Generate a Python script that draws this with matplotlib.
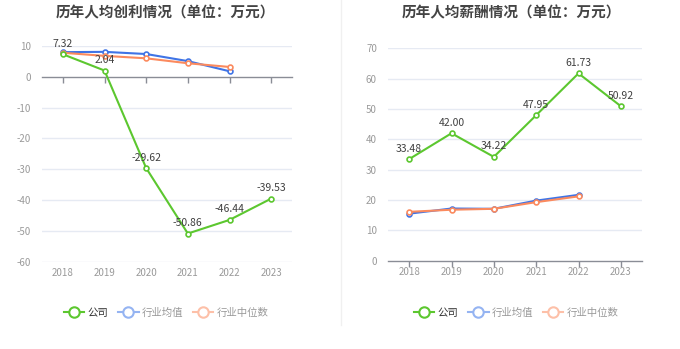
import matplotlib
matplotlib.use('Agg')
from matplotlib import pyplot as plt
from matplotlib.lines import Line2D

plt.rcParams['font.family'] = ['Noto Sans CJK SC', 'DejaVu Sans']

years = ['2018', '2019', '2020', '2021', '2022', '2023']

# 人均创利
profit_company = [7.32, 2.04, -29.62, -50.86, -46.44, -39.53]
profit_avg = [8.0, 8.1, 7.4, 5.1, 1.8]
profit_median = [7.8, 6.8, 6.0, 4.4, 3.2]

# 人均薪酬
salary_company = [33.48, 42.00, 34.22, 47.95, 61.73, 50.92]
salary_avg = [15.5, 17.2, 17.1, 19.8, 21.7]
salary_median = [16.1, 16.8, 17.1, 19.3, 21.2]

green = '#5cc72f'
blue = '#3f74e6'
orange = '#fb8a5e'
grid_c = '#e6eaf3'
axis_c = '#8a8d96'
tick_c = '#9a9a9a'

W, H = 680, 349
fig = plt.figure(figsize=(W / 100, H / 100), dpi=100)


def px_axes(x0, x1, ytop, ybot):
    return fig.add_axes([x0 / W, (H - ybot) / H, (x1 - x0) / W, (ybot - ytop) / H])


def draw(ax, company, avg, median, ylim, yticks, zero_axis):
    x = list(range(len(years)))
    ax.set_xlim(-0.5, 5.5)
    ax.set_ylim(*ylim)
    for s in ['top', 'right', 'left']:
        ax.spines[s].set_visible(False)
    ax.spines['bottom'].set_color(axis_c)
    ax.spines['bottom'].set_linewidth(1)
    if zero_axis:
        ax.spines['bottom'].set_position(('data', 0))
    ax.set_yticks(yticks)
    ax.set_yticklabels([str(v) for v in yticks])
    ax.tick_params(axis='y', length=0, labelsize=7, colors=tick_c, pad=8)
    ax.set_xticks(x)
    ax.set_xticklabels([])
    ax.tick_params(axis='x', length=4, color=axis_c, width=1)
    for v in yticks:
        if v != 0:
            ax.axhline(v, color=grid_c, lw=1, zorder=0)
    for i, yr in enumerate(years):
        ax.text(i, -0.028, yr, transform=ax.get_xaxis_transform(), ha='center', va='top',
                fontsize=7, color=tick_c)
    ax.plot(x[:len(avg)], avg, color=blue, lw=1.5, marker='o', ms=3.5, mfc='white',
            mew=1.2, zorder=3)
    ax.plot(x[:len(median)], median, color=orange, lw=1.5, marker='o', ms=3.5, mfc='white',
            mew=1.2, zorder=3)
    ax.plot(x, company, color=green, lw=1.5, marker='o', ms=3.5, mfc='white',
            mew=1.2, zorder=4)
    for i, v in enumerate(company):
        ax.annotate('%.2f' % v, (i, v), xytext=(0, 4), textcoords='offset points',
                    ha='center', va='bottom', fontsize=7.5, color='#404040', zorder=5)


ax1 = px_axes(42, 292, 46, 261.7)
draw(ax1, profit_company, profit_avg, profit_median, (-60, 10),
     [-60, -50, -40, -30, -20, -10, 0, 10], True)

ax2 = px_axes(388, 642, 48.3, 260.7)
draw(ax2, salary_company, salary_avg, salary_median, (0, 70),
     [0, 10, 20, 30, 40, 50, 60, 70], False)

fig.text(165 / W, 1 - 12 / H, '历年人均创利情况（单位：万元）', ha='center', va='center',
         fontsize=10.5, fontweight='bold', color='#444444')
fig.text(511 / W, 1 - 12 / H, '历年人均薪酬情况（单位：万元）', ha='center', va='center',
         fontsize=10.5, fontweight='bold', color='#444444')

# divider
fig.add_artist(Line2D([341 / W, 341 / W], [1 - 325 / H, 1], color='#f0f0f0', lw=1))

handles = [
    Line2D([], [], color=green, lw=1.5, marker='o', ms=7.5, mfc='white', mew=1.5),
    Line2D([], [], color='#95b4f2', lw=1.5, marker='o', ms=7.5, mfc='white', mew=1.5),
    Line2D([], [], color='#fdc0a8', lw=1.5, marker='o', ms=7.5, mfc='white', mew=1.5),
]
names = ['公司', '行业均值', '行业中位数']
for cx in [166, 516]:
    leg = fig.legend(handles, names, loc='center', bbox_to_anchor=(cx / W, 1 - 313 / H),
                     ncol=3, frameon=False, fontsize=7.5, handlelength=2.0,
                     handletextpad=0.3, columnspacing=0.9)
    for t, c in zip(leg.get_texts(), ['#333333', '#999999', '#999999']):
        t.set_color(c)

fig.savefig('out.png', dpi=100)
